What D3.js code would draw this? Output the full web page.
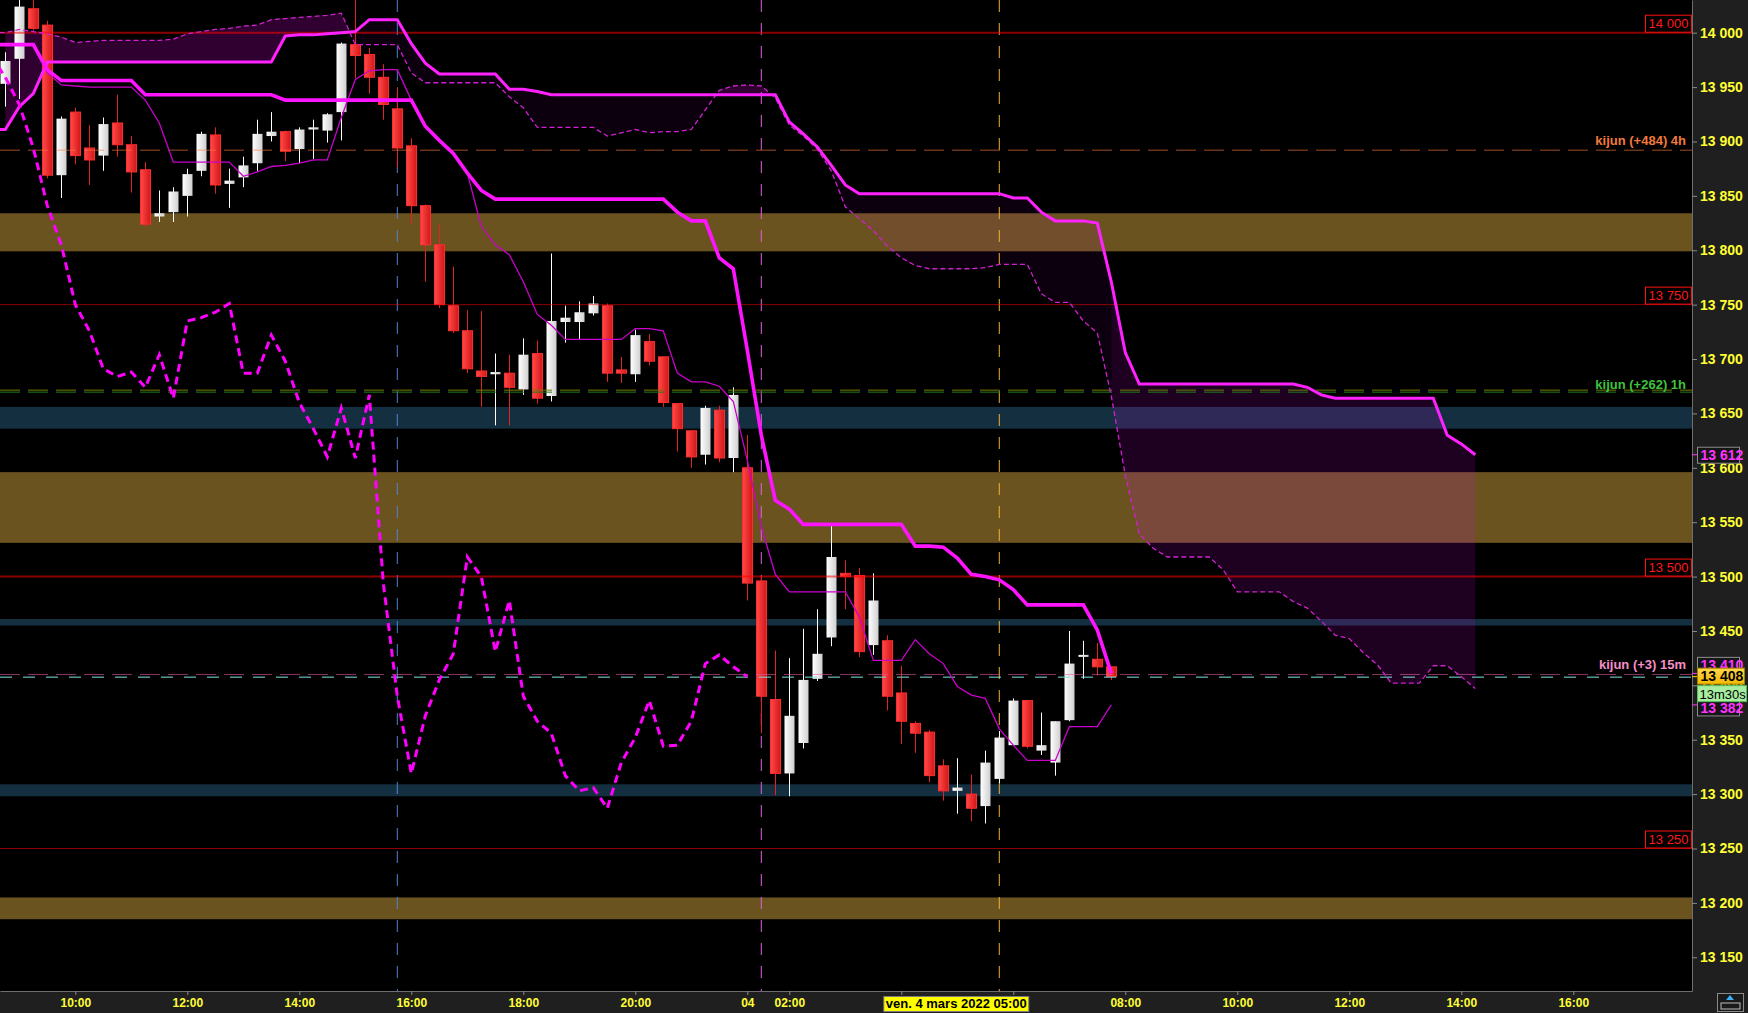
<!DOCTYPE html>
<html>
<head>
<meta charset="utf-8">
<script src="https://cdn.jsdelivr.net/npm/d3@7"></script>
<style>
  body { margin: 0; background: #000; overflow: hidden; }
  text { font-family: "Liberation Sans", Arial, sans-serif; }
</style>
</head>
<body>
<svg id="chart"></svg>
<script>
// 15 min candles, bar 0 = 08:45 on the 3rd
const opens = [13953, 13976, 14022, 14007, 13869, 13927, 13894, 13887, 13917, 13897,
  13874, 13831, 13835, 13850, 13873, 13906, 13861, 13867, 13880, 13905,
  13909, 13893, 13911, 13910, 13927, 13989, 13980, 13959, 13930, 13896,
  13841, 13805, 13749, 13726, 13689, 13686, 13687, 13672, 13705, 13666,
  13734, 13734, 13742, 13749, 13690, 13686, 13716, 13702, 13659, 13634,
  13612, 13653, 13609, 13600, 13496, 13387, 13319, 13347, 13406, 13444,
  13503, 13501, 13437, 13441, 13393, 13365, 13357, 13326, 13303, 13300,
  13289, 13314, 13345, 13386, 13340, 13329, 13368, 13427, 13424, 13417];
const highs = [13982, 14035, 14030, 14011, 13923, 13931, 13915, 13922, 13943, 13905,
  13881, 13855, 13858, 13875, 13909, 13913, 13875, 13886, 13920, 13927,
  13910, 13913, 13920, 13926, 13991, 14032, 13986, 13971, 13950, 13903,
  13842, 13824, 13785, 13745, 13744, 13705, 13704, 13719, 13717, 13797,
  13749, 13753, 13758, 13751, 13702, 13727, 13723, 13702, 13659, 13634,
  13657, 13657, 13674, 13630, 13500, 13432, 13425, 13452, 13470, 13547,
  13515, 13508, 13503, 13446, 13418, 13367, 13359, 13332, 13333, 13318,
  13340, 13358, 13388, 13386, 13375, 13367, 13450, 13441, 13439, 13417];
const lows = [13932, 13939, 14002, 13866, 13848, 13879, 13860, 13873, 13886, 13853,
  13821, 13826, 13826, 13831, 13868, 13852, 13839, 13858, 13873, 13900,
  13882, 13880, 13884, 13899, 13901, 13958, 13944, 13920, 13876, 13824,
  13771, 13747, 13724, 13687, 13656, 13639, 13639, 13667, 13659, 13661,
  13715, 13718, 13740, 13679, 13678, 13679, 13694, 13656, 13615, 13600,
  13603, 13605, 13596, 13478, 13356, 13299, 13298, 13342, 13404, 13436,
  13470, 13426, 13428, 13377, 13346, 13338, 13311, 13294, 13282, 13275,
  13273, 13310, 13345, 13342, 13336, 13317, 13367, 13406, 13409, 13405];
const closes = [13974, 14024, 14004, 13869, 13921, 13887, 13883, 13916, 13897, 13872,
  13824, 13834, 13854, 13870, 13907, 13860, 13864, 13878, 13907, 13909,
  13891, 13911, 13913, 13925, 13990, 13979, 13959, 13934, 13894, 13841,
  13805, 13750, 13726, 13691, 13684, 13688, 13674, 13704, 13664, 13735,
  13738, 13743, 13751, 13687, 13687, 13722, 13698, 13660, 13636, 13610,
  13655, 13609, 13667, 13494, 13390, 13319, 13372, 13405, 13429, 13518,
  13500, 13431, 13478, 13390, 13367, 13356, 13317, 13303, 13306, 13287,
  13329, 13352, 13386, 13344, 13345, 13367, 13420, 13428, 13417, 13408];

// Ichimoku (bar index = position in array)
const tenkan = [13989, 13989, 13989, 13963, 13952, 13951, 13950, 13950, 13950, 13950,
  13938, 13917, 13881, 13881, 13881, 13881, 13881, 13868, 13872, 13877,
  13878, 13880, 13883, 13883, 13922, 13957, 13965, 13966, 13966, 13938,
  13914, 13901, 13889, 13871, 13822, 13805, 13796, 13771, 13741, 13731,
  13718, 13718, 13718, 13718, 13718, 13728, 13728, 13726, 13687, 13679,
  13679, 13675, 13661, 13607, 13546, 13502, 13486, 13486, 13486, 13486,
  13486, 13463, 13423, 13423, 13423, 13442, 13429, 13420, 13399, 13391,
  13388, 13360, 13345, 13331, 13331, 13331, 13362, 13362, 13362, 13382];
const kijun = [13989, 13989, 13989, 13966, 13956, 13956, 13956, 13956, 13956, 13956,
  13943, 13943, 13943, 13943, 13943, 13943, 13943, 13943, 13943, 13943,
  13938, 13938, 13938, 13938, 13938, 13938, 13938, 13938, 13938, 13938,
  13914, 13901, 13889, 13871, 13855, 13847, 13847, 13847, 13847, 13847,
  13847, 13847, 13847, 13847, 13847, 13847, 13847, 13847, 13835, 13827,
  13827, 13793, 13783, 13708, 13630, 13570, 13562, 13548, 13548, 13548,
  13548, 13548, 13548, 13548, 13548, 13528, 13528, 13527, 13517, 13502,
  13500, 13497, 13488, 13474, 13474, 13474, 13474, 13474, 13451, 13411];
const spanA = [13911, 13932, 13944, 13973, 13973, 13973, 13973, 13973, 13973, 13973,
  13973, 13973, 13973, 13973, 13973, 13973, 13973, 13973, 13973, 13973,
  13997, 13998, 13998, 13999, 14000, 14001, 14012, 14012, 14012, 13990,
  13972, 13962, 13962, 13962, 13962, 13962, 13948, 13948, 13946, 13943,
  13943, 13943, 13943, 13943, 13943, 13943, 13943, 13943, 13943, 13943,
  13943, 13943, 13943, 13943, 13943, 13943, 13918, 13907, 13895, 13878,
  13860, 13852, 13852, 13852, 13852, 13852, 13852, 13852, 13852, 13852,
  13852, 13852, 13848, 13848, 13835, 13827, 13827, 13827, 13825, 13771,
  13706, 13677, 13677, 13677, 13677, 13677, 13677, 13677, 13677, 13677,
  13677, 13677, 13677, 13674, 13667, 13664, 13664, 13664, 13664, 13664,
  13664, 13664, 13664, 13630, 13622, 13612];
const spanB = [14000, 14003, 14001, 13999, 13996, 13991, 13992, 13993, 13993, 13993,
  13993, 13993, 13994, 13999, 14001, 14003, 14004, 14006, 14007, 14012,
  14013, 14014, 14015, 14016, 14018, 13989, 13989, 13989, 13989, 13963,
  13954, 13954, 13954, 13954, 13954, 13954, 13941, 13931, 13913, 13913,
  13913, 13913, 13913, 13905, 13908, 13911, 13908, 13909, 13909, 13911,
  13929, 13947, 13951, 13952, 13951, 13940, 13915, 13905, 13893, 13873,
  13840, 13829, 13818, 13804, 13793, 13786, 13783, 13783, 13783, 13783,
  13784, 13787, 13787, 13787, 13760, 13752, 13752, 13735, 13724, 13666,
  13593, 13539, 13526, 13518, 13518, 13518, 13518, 13506, 13486, 13486,
  13486, 13486, 13477, 13471, 13459, 13446, 13443, 13430, 13419, 13402,
  13402, 13402, 13418, 13418, 13408, 13397];
// lagging line, first value sits one bar left of bar 0
const chikouStart = -1;
const chikou = [13979, 13959, 13934, 13894, 13841, 13805, 13750, 13726, 13691, 13684,
  13688, 13674, 13704, 13664, 13735, 13738, 13743, 13751, 13687, 13687,
  13722, 13698, 13660, 13636, 13610, 13655, 13609, 13667, 13494, 13390,
  13319, 13372, 13405, 13429, 13518, 13500, 13431, 13478, 13390, 13367,
  13356, 13317, 13303, 13306, 13287, 13329, 13352, 13386, 13344, 13345,
  13367, 13420, 13428, 13417, 13408];

// levels and zones
const roundLevels = [14000, 13750, 13500, 13250];
const goldZones = [[13799, 13834], [13531, 13596], [13185, 13205]];
const blueZones = [[13636, 13656], [13455, 13461], [13298, 13309]];
const kijunNames = ["kijun (+484) 4h", "kijun (+262) 1h", "kijun (+3) 15m"];
const kijunValues = [13892, 13670, 13410];
const separatorBars = [28, 54];
const crossBar = 71;
const crossLabel = "ven. 4 mars 2022 05:00";
const countdown = "13m30s";

// axis ticks (04:00 and 06:00 sit under the crosshair date box, no label shown)
const priceTicks = [13150, 13200, 13250, 13300, 13350, 13400, 13450, 13500, 13550,
  13600, 13650, 13700, 13750, 13800, 13850, 13900, 13950, 14000];
const xTickBars = [5, 13, 21, 29, 37, 45, 53, 56, 64, 72, 80, 88, 96, 104, 112];
const xTickLabels = ["10:00", "12:00", "14:00", "16:00", "18:00", "20:00", "04", "02:00",
  "", "", "08:00", "10:00", "12:00", "14:00", "16:00"];

const W = 1748, H = 1013, plotW = 1692, plotH = 991;
const last = closes.length - 1;

const svg = d3.select("#chart").attr("width", W).attr("height", H);
const defs = svg.append("defs");
defs.append("clipPath").attr("id", "clip")
  .append("rect").attr("width", plotW).attr("height", plotH);

const gRed = defs.append("linearGradient").attr("id", "gRed");
gRed.append("stop").attr("offset", "0%").attr("stop-color", "#ff4a4a");
gRed.append("stop").attr("offset", "100%").attr("stop-color", "#d41616");
const gWhite = defs.append("linearGradient").attr("id", "gWhite");
gWhite.append("stop").attr("offset", "0%").attr("stop-color", "#ffffff");
gWhite.append("stop").attr("offset", "100%").attr("stop-color", "#cfcfcf");
const gGold = defs.append("linearGradient").attr("id", "gGold").attr("x2", 0).attr("y2", 1);
gGold.append("stop").attr("offset", "0%").attr("stop-color", "#ffd84a");
gGold.append("stop").attr("offset", "100%").attr("stop-color", "#f5b800");

const x = d3.scaleLinear().domain([-0.38, 120.48]).range([0, plotW]);
const y = d3.scaleLinear().domain([13119, 14030.06]).range([plotH, 0]);
const fmt = v => d3.format(",")(v).replace(/,/g, " ");

svg.append("rect").attr("width", W).attr("height", H).attr("fill", "#000");

const plot = svg.append("g").attr("clip-path", "url(#clip)");

// support / resistance zones
plot.selectAll(".gold").data(goldZones).join("rect")
  .attr("x", 0).attr("width", plotW)
  .attr("y", d => y(d[1])).attr("height", d => y(d[0]) - y(d[1]))
  .attr("fill", "#6b5320");
plot.selectAll(".blue").data(blueZones).join("rect")
  .attr("x", 0).attr("width", plotW)
  .attr("y", d => y(d[1])).attr("height", d => y(d[0]) - y(d[1]))
  .attr("fill", "#143040");

// cloud: merge consecutive pieces of the same kind into one polygon
const pieces = [];
for (let i = 0; i < spanA.length - 1; i++) {
  const a0 = spanA[i], a1 = spanA[i + 1], b0 = spanB[i], b1 = spanB[i + 1];
  const d0 = a0 - b0, d1 = a1 - b1;
  const kind = (d, bar) => d < 0 ? "bear" : (bar >= last ? "future" : "bull");
  if (d0 * d1 < 0) {
    const t = d0 / (d0 - d1);
    const xc = i + t, pc = a0 + t * (a1 - a0);
    pieces.push({ a: [[i, a0], [xc, pc]], b: [[i, b0], [xc, pc]], k: kind(d0, i) });
    pieces.push({ a: [[xc, pc], [i + 1, a1]], b: [[xc, pc], [i + 1, b1]], k: kind(d1, i) });
  } else {
    pieces.push({ a: [[i, a0], [i + 1, a1]], b: [[i, b0], [i + 1, b1]], k: kind(d0 + d1, i) });
  }
}
const runs = [];
pieces.forEach(p => {
  const r = runs[runs.length - 1];
  if (r && r.k === p.k) { r.a.push(p.a[1]); r.b.push(p.b[1]); }
  else runs.push({ k: p.k, a: p.a.slice(), b: p.b.slice() });
});
const cloudFill = { bear: "rgba(255,0,255,0.19)", bull: "rgba(230,0,255,0.055)", future: "rgba(230,0,255,0.13)" };
plot.selectAll(".cloud").data(runs).join("path")
  .attr("d", r => {
    const pts = r.a.concat(r.b.slice().reverse());
    return "M" + pts.map(p => x(p[0]) + "," + y(p[1])).join("L") + "Z";
  })
  .attr("fill", r => cloudFill[r.k]);

// session separators and crosshair
plot.selectAll(".sep").data(separatorBars).join("line")
  .attr("x1", d => x(d)).attr("x2", d => x(d))
  .attr("y1", 0).attr("y2", plotH)
  .attr("stroke", (d, i) => i === 0 ? "#4f82d6" : "#e060e0")
  .attr("stroke-width", 1).attr("stroke-dasharray", "12,11");
plot.append("line")
  .attr("x1", x(crossBar)).attr("x2", x(crossBar))
  .attr("y1", 0).attr("y2", plotH)
  .attr("stroke", "#f0b030").attr("stroke-width", 1).attr("stroke-dasharray", "12,11");

// candles
const bars = d3.range(closes.length).map(i => ({
  i, o: opens[i], h: highs[i], l: lows[i], c: closes[i], up: closes[i] >= opens[i]
}));
const bodyW = 10;
plot.selectAll(".wick").data(bars).join("line")
  .attr("x1", d => Math.round(x(d.i)) + 0.5).attr("x2", d => Math.round(x(d.i)) + 0.5)
  .attr("y1", d => y(d.h)).attr("y2", d => y(d.l))
  .attr("stroke", d => d.up ? "#ffffff" : "#e52222").attr("stroke-width", 1);
plot.selectAll(".body").data(bars).join("rect")
  .attr("x", d => Math.round(x(d.i)) - bodyW / 2 + 0.5)
  .attr("width", bodyW)
  .attr("y", d => y(Math.max(d.o, d.c)))
  .attr("height", d => Math.max(2, Math.abs(y(d.o) - y(d.c))))
  .attr("fill", d => d.up ? "url(#gWhite)" : "url(#gRed)")
  .attr("stroke", d => d.up ? "none" : "#ff2d2d").attr("stroke-width", 1);

// round number levels
plot.selectAll(".lvl").data(roundLevels).join("line")
  .attr("x1", 0).attr("x2", plotW)
  .attr("y1", d => y(d)).attr("y2", d => y(d))
  .attr("stroke", "rgba(255,0,0,0.55)")
  .attr("stroke-width", d => d % 500 === 0 ? 2 : 1);

// higher timeframe kijun levels
const kijunStyle = [
  { stroke: "rgba(255,120,60,0.62)", text: "#f27a3c" },
  { stroke: "rgba(120,200,40,0.6)", text: "#3fc23f" },
  { stroke: "rgba(230,90,170,0.6)", text: "#f48fc8" }
];
kijunValues.forEach((v, i) => {
  if (i === 1) {
    plot.append("line").attr("x1", 0).attr("x2", plotW)
      .attr("y1", y(v) - 1.5).attr("y2", y(v) - 1.5)
      .attr("stroke", "#7a7a00").attr("stroke-dasharray", "20,8");
    plot.append("line").attr("x1", 0).attr("x2", plotW)
      .attr("y1", y(v) + 0.5).attr("y2", y(v) + 0.5)
      .attr("stroke", "#1f7f1f").attr("stroke-dasharray", "20,8");
  } else {
    plot.append("line").attr("x1", 0).attr("x2", plotW)
      .attr("y1", y(v)).attr("y2", y(v))
      .attr("stroke", kijunStyle[i].stroke).attr("stroke-dasharray", "20,8");
  }
});
// last price line
plot.append("line").attr("x1", 0).attr("x2", plotW)
  .attr("y1", y(closes[last]) + 0.5).attr("y2", y(closes[last]) + 0.5)
  .attr("stroke", "#7fe3e3").attr("stroke-dasharray", "12,11");

// ichimoku lines
const lineFrom = (arr, start) => d3.line()
  .x((d, i) => x(i + start)).y(d => y(d))(arr);
const lead = arr => [arr[0]].concat(arr);   // carry first value to the left edge
const leadX = (arr) => d3.line()
  .x((d, i) => i === 0 ? x.domain()[0] : x(i - 1)).y(d => y(d))(lead(arr));

plot.append("path").attr("d", leadX(spanB)).attr("fill", "none")
  .attr("stroke", "#d020d0").attr("stroke-width", 1.3).attr("stroke-dasharray", "5,3");
plot.append("path").attr("d", leadX(spanA)).attr("fill", "none")
  .attr("stroke", "#ff22ff").attr("stroke-width", 3);
plot.append("path").attr("d", leadX(tenkan)).attr("fill", "none")
  .attr("stroke", "#cc00cc").attr("stroke-width", 1.3);
plot.append("path").attr("d", leadX(kijun)).attr("fill", "none")
  .attr("stroke", "#ff14ff").attr("stroke-width", 3.6);
plot.append("path").attr("d", lineFrom(chikou, chikouStart)).attr("fill", "none")
  .attr("stroke", "#ff00ff").attr("stroke-width", 3).attr("stroke-dasharray", "8,5");

// level labels
const lvlLab = plot.selectAll(".lvlLab").data(roundLevels).join("g")
  .attr("transform", d => `translate(${plotW - 47},${y(d) - 18})`);
lvlLab.append("rect").attr("x", 0.5).attr("y", 0.5).attr("width", 46).attr("height", 17)
  .attr("fill", "#000").attr("stroke", "#ff1010");
lvlLab.append("text").attr("x", 23.5).attr("y", 13.5).attr("text-anchor", "middle")
  .attr("font-size", 13).attr("fill", "#ff1a1a").text(d => fmt(d));

kijunValues.forEach((v, i) => {
  plot.append("text").attr("x", plotW - 6).attr("y", y(v) - (i === 1 ? 3 : 5))
    .attr("text-anchor", "end").attr("font-size", 13).attr("font-weight", "bold")
    .attr("fill", kijunStyle[i].text).text(kijunNames[i]);
});

// axis panels
svg.append("rect").attr("x", plotW).attr("y", 0).attr("width", W - plotW).attr("height", H)
  .attr("fill", "#1f1f1f");
svg.append("rect").attr("x", 0).attr("y", plotH).attr("width", W).attr("height", H - plotH)
  .attr("fill", "#1f1f1f");

const yAxis = svg.append("g").attr("transform", `translate(${plotW},0)`)
  .call(d3.axisRight(y).tickValues(priceTicks).tickSize(5).tickSizeOuter(0).tickFormat(fmt));
yAxis.select(".domain").attr("stroke", "#6e6e6e");
yAxis.selectAll(".tick line").attr("stroke", "#8a8a8a");
yAxis.selectAll(".tick text").attr("fill", "#ffff33").attr("font-size", 14)
  .attr("font-weight", "bold").attr("font-family", "Liberation Sans, Arial, sans-serif");

const xAxis = svg.append("g").attr("transform", `translate(0,${plotH})`)
  .call(d3.axisBottom(x).tickValues(xTickBars).tickSize(4).tickSizeOuter(0)
    .tickFormat((d, i) => xTickLabels[i]));
xAxis.select(".domain").attr("stroke", "#6e6e6e");
xAxis.selectAll(".tick line").attr("stroke", "#8a8a8a");
xAxis.selectAll(".tick text").attr("fill", "#ffff33").attr("font-size", 12)
  .attr("font-weight", "bold").attr("font-family", "Liberation Sans, Arial, sans-serif");

// crosshair date box
const cx = x(crossBar) - 43;
const dateG = svg.append("g");
const dateT = dateG.append("text").attr("x", cx).attr("y", plotH + 17)
  .attr("text-anchor", "middle").attr("font-size", 13).attr("font-weight", "bold")
  .attr("fill", "#000").text(crossLabel);
const bb = dateT.node().getBBox();
dateG.insert("rect", "text").attr("x", bb.x - 2).attr("y", plotH + 5.5)
  .attr("width", bb.width + 4).attr("height", 15)
  .attr("fill", "#ffff00").attr("stroke", "#7a7a7a");

// price tags on the right axis
function tag(value, dy, label, opt) {
  const g = svg.append("g").attr("transform", `translate(${plotW + 5.5},${y(value) + dy})`);
  g.append("rect").attr("x", 0).attr("y", -8).attr("width", opt.w).attr("height", 16)
    .attr("fill", opt.fill).attr("stroke", opt.stroke);
  g.append("text").attr("x", 3).attr("y", 5).attr("font-size", opt.size)
    .attr("font-weight", opt.weight || "bold").attr("fill", opt.color).text(label);
  svg.append("line").attr("x1", plotW).attr("x2", plotW + 5)
    .attr("y1", y(value)).attr("y2", y(value)).attr("stroke", opt.tick);
}
const dark = { w: 42, fill: "#161616", stroke: "#8c8c8c", size: 14, color: "#ff33ff", tick: "#ff33ff" };
tag(spanA[spanA.length - 1], 0.5, fmt(spanA[spanA.length - 1]), dark);
tag(kijun[last], -8, fmt(kijun[last] - 1), dark);
tag(tenkan[last], 3, fmt(tenkan[last]), dark);
tag(closes[last], -0.5, fmt(closes[last]),
  { w: 47, fill: "url(#gGold)", stroke: "#a08000", size: 14, color: "#000", tick: "#ffd000" });
const cd = svg.append("g").attr("transform", `translate(${plotW + 5.5},${y(closes[last]) + 17})`);
cd.append("rect").attr("x", 0).attr("y", -8).attr("width", 49).attr("height", 16)
  .attr("fill", "#a6efa0").attr("stroke", "#5bb85b");
cd.append("text").attr("x", 2).attr("y", 5).attr("font-size", 13).attr("fill", "#000").text(countdown);

// little corner button
const btn = svg.append("g").attr("transform", `translate(${W - 31},${plotH + 2})`);
btn.append("rect").attr("x", 0.5).attr("y", 0.5).attr("width", 26).attr("height", 18)
  .attr("fill", "#1a1a1a").attr("stroke", "#8a8a8a");
btn.append("path").attr("d", "M13,2 L17,7 L9,7 Z").attr("fill", "#3ab0ff");
btn.append("rect").attr("x", 4).attr("y", 10).attr("width", 19).attr("height", 6)
  .attr("fill", "none").attr("stroke", "#bbbbbb");
</script>
</body>
</html>
